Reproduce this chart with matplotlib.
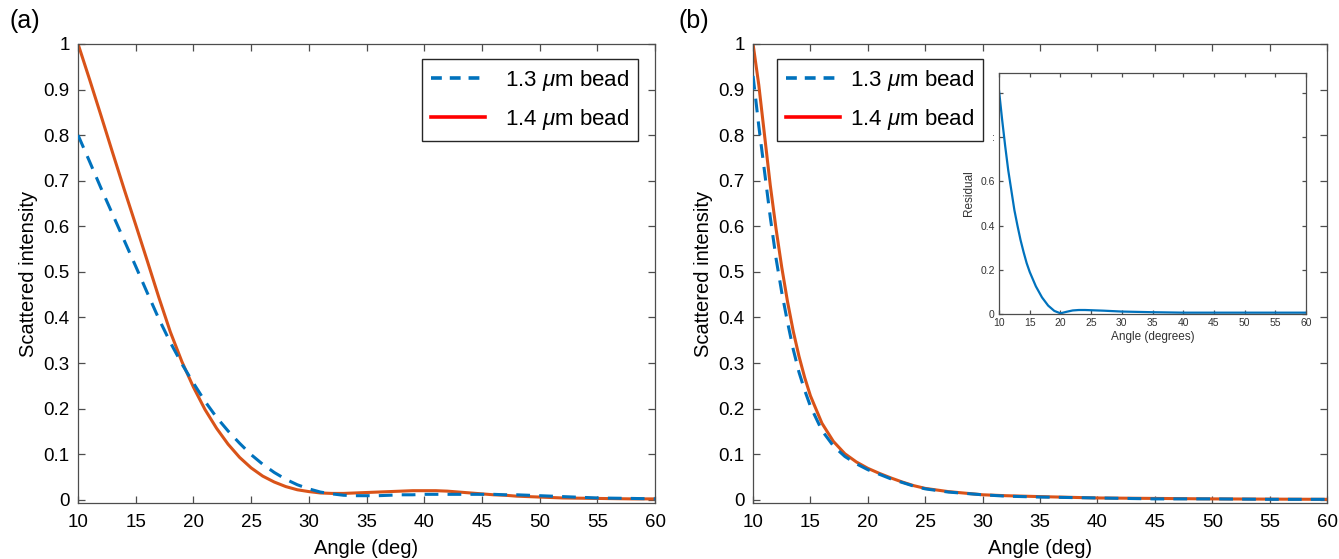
import numpy as np
import matplotlib
matplotlib.use("Agg")
import matplotlib.pyplot as plt
from matplotlib.lines import Line2D
from matplotlib.ticker import FormatStrFormatter

plt.rcParams['font.family'] = ['Liberation Sans', 'DejaVu Sans']
plt.rcParams['mathtext.fontset'] = 'custom'
plt.rcParams['mathtext.rm'] = 'Liberation Sans'
plt.rcParams['mathtext.it'] = 'Liberation Sans:italic'

# Panel (a): scattered intensity vs angle
angle_a = [10, 11, 12, 13, 14, 15, 16, 17, 18, 19, 20, 21, 22, 23, 24, 25, 26, 27, 28, 29,
           30, 31, 32, 33, 34, 35, 36, 37, 38, 39, 40, 41, 42, 43, 44, 45, 46, 47, 48, 50,
           52, 55, 58, 60]
bead13_a = [0.80, 0.742, 0.683, 0.626, 0.569, 0.512, 0.454, 0.397, 0.345, 0.298, 0.256, 0.216,
            0.181, 0.151, 0.124, 0.099, 0.078, 0.060, 0.045, 0.033, 0.024, 0.017, 0.013, 0.010,
            0.009, 0.009, 0.009, 0.010, 0.011, 0.011, 0.012, 0.012, 0.012, 0.012, 0.012, 0.012,
            0.012, 0.011, 0.011, 0.009, 0.007, 0.004, 0.003, 0.002]
bead14_a = [1.0, 0.922, 0.842, 0.761, 0.681, 0.603, 0.524, 0.444, 0.368, 0.303, 0.247, 0.198,
            0.157, 0.122, 0.093, 0.070, 0.052, 0.039, 0.029, 0.022, 0.018, 0.015, 0.014, 0.014,
            0.015, 0.016, 0.017, 0.018, 0.019, 0.020, 0.020, 0.020, 0.019, 0.017, 0.015, 0.013,
            0.011, 0.010, 0.008, 0.006, 0.004, 0.003, 0.002, 0.002]

# Panel (b)
angle_b = [10, 10.5, 11, 11.5, 12, 12.5, 13, 13.5, 14, 14.5, 15, 16, 17, 18, 19, 20, 21, 22,
           23, 24, 25, 27, 30, 32, 35, 40, 45, 50, 55, 60]
bead13_b = [0.93, 0.82, 0.72, 0.62, 0.53, 0.455, 0.39, 0.33, 0.28, 0.24, 0.205, 0.152, 0.118,
            0.095, 0.079, 0.066, 0.056, 0.046, 0.038, 0.030, 0.024, 0.017, 0.011, 0.008, 0.006,
            0.004, 0.002, 0.002, 0.001, 0.001]
bead14_b = [1.0, 0.91, 0.80, 0.69, 0.595, 0.51, 0.435, 0.37, 0.315, 0.268, 0.228, 0.168, 0.128,
            0.101, 0.083, 0.069, 0.058, 0.048, 0.039, 0.031, 0.025, 0.018, 0.011, 0.009, 0.007,
            0.004, 0.003, 0.002, 0.0015, 0.001]

# Inset: residual between the two curves
angle_res = [10, 10.5, 11, 11.5, 12, 12.5, 13, 13.5, 14, 14.5, 15, 16, 17, 18, 19, 20, 21, 22,
             23, 24, 25, 27, 30, 35, 40, 50, 60]
residual = [1.01, 0.88, 0.76, 0.65, 0.56, 0.47, 0.40, 0.335, 0.28, 0.23, 0.19, 0.125, 0.075,
            0.038, 0.014, 0.003, 0.010, 0.016, 0.018, 0.018, 0.017, 0.015, 0.011, 0.008, 0.006,
            0.006, 0.006]

x_ticks = [10, 15, 20, 25, 30, 35, 40, 45, 50, 55, 60]
y_ticks = [0, 0.1, 0.2, 0.3, 0.4, 0.5, 0.6, 0.7, 0.8, 0.9, 1.0]
inset_yticks = [0, 0.2, 0.4, 0.6, 0.8, 1.0]
inset_ylabels = ['0', '0.2', '0.4', '0.6', ':', '']
labels = ['1.3 $\\mu$m bead', '1.4 $\\mu$m bead']

BLUE = '#0072BD'
ORANGE = '#D95319'
AXCOL = '#4d4d4d'


def style_axes(ax, size, ticklen, pad):
    for sp in ax.spines.values():
        sp.set_color(AXCOL)
        sp.set_linewidth(0.9)
    ax.tick_params(direction='in', top=True, right=True, length=ticklen, width=0.9,
                   color=AXCOL, labelsize=size, labelcolor='black', pad=pad)


def main_panel(ax, x, y13, y14):
    ax.plot(x, y14, color=ORANGE, lw=2.2, zorder=2)
    ax.plot(x, y13, color=BLUE, lw=2.2, dashes=(4.5, 3), zorder=3)
    ax.set_xlim(10, 60)
    ax.set_ylim(-0.007, 1.0)
    ax.set_xticks(x_ticks)
    ax.set_yticks(y_ticks)
    ax.yaxis.set_major_formatter(FormatStrFormatter('%g'))
    style_axes(ax, 13.5, 5, 6)
    ax.tick_params(axis='x', pad=8)
    ax.set_xlabel('Angle (deg)', fontsize=14.5, labelpad=6)
    ax.set_ylabel('Scattered intensity', fontsize=14.5, labelpad=4)


fig = plt.figure(figsize=(13.39, 5.59), dpi=100)
ax_a = fig.add_axes([0.0583, 0.1002, 0.4309, 0.8211])
ax_b = fig.add_axes([0.5624, 0.1002, 0.4287, 0.8211])

main_panel(ax_a, angle_a, bead13_a, bead14_a)
main_panel(ax_b, angle_b, bead13_b, bead14_b)

handles = [Line2D([], [], color=BLUE, lw=2.6, dashes=(3, 2.2)),
           Line2D([], [], color='#ff0000', lw=2.6)]
leg_kw = dict(fontsize=16, handlelength=2.45, borderpad=0.4, borderaxespad=0,
              labelspacing=0.62, fancybox=False, framealpha=1, edgecolor='#262626')
leg_a = ax_a.legend(handles, labels, loc='upper right', bbox_to_anchor=(0.9705, 0.967),
                    handletextpad=0.9, **leg_kw)
leg_b = ax_b.legend(handles, labels, loc='upper left', bbox_to_anchor=(0.042, 0.967),
                    handletextpad=0.45, **leg_kw)
for leg in (leg_a, leg_b):
    leg.get_frame().set_linewidth(1.0)

# inset in panel (b)
ax_in = fig.add_axes([0.7461, 0.4383, 0.2293, 0.4311])
ax_in.plot(angle_res, residual, color=BLUE, lw=1.6)
ax_in.set_xlim(10, 60)
ax_in.set_ylim(0, 1.09)
ax_in.set_xticks(x_ticks)
ax_in.set_yticks(inset_yticks)
ax_in.set_yticklabels(inset_ylabels)
style_axes(ax_in, 7.5, 3, 3)
ax_in.tick_params(labelcolor='#333333')
ax_in.set_xlabel('Angle (degrees)', fontsize=8.5, labelpad=2, color='#333333')
ax_in.set_ylabel('Residual', fontsize=8.5, labelpad=4, color='#333333')

fig.text(0.007, 0.962, '(a)', fontsize=18, va='center', ha='left')
fig.text(0.507, 0.962, '(b)', fontsize=18, va='center', ha='left')

fig.savefig('out.png', dpi=100)
